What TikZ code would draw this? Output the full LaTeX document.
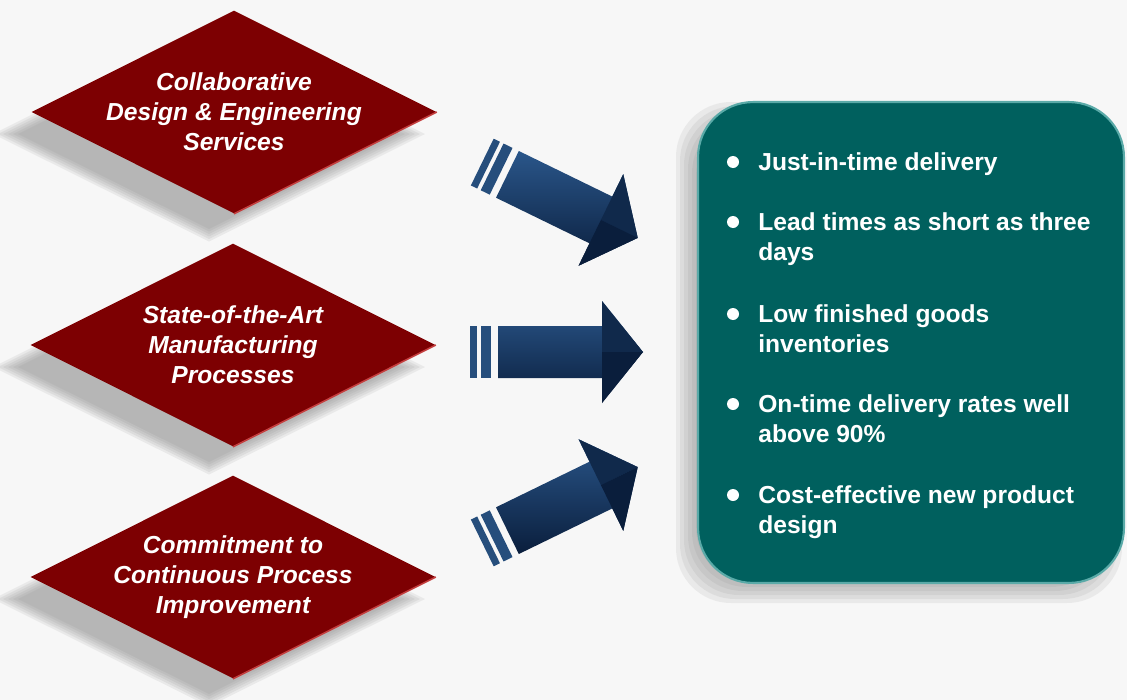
\documentclass[tikz,border=0pt]{standalone}
\usepackage{fontspec}
\setmainfont{Liberation Sans}
\definecolor{pagebg}{RGB}{247,247,247}
\definecolor{dmred}{RGB}{125,0,2}
\definecolor{dmredlight}{RGB}{196,62,62}
\definecolor{dmteal}{RGB}{0,96,94}
\definecolor{dmteallight}{RGB}{90,170,168}
\definecolor{dmnavy}{RGB}{42,86,138}
\definecolor{dmnavydark}{RGB}{10,30,60}
\usetikzlibrary{shapes.geometric,positioning}

\begin{document}
\begin{tikzpicture}[x=0.02cm,y=-0.02cm,
  capability/.style={shape=diamond,fill=dmred,minimum width=8.1cm,minimum height=4.06cm,inner sep=0pt},
  capabilitytext/.style={text=white,align=center,font=\fontsize{14}{17}\selectfont\bfseries\itshape},
  rimlight/.style={draw=dmredlight,line width=0.9pt},
  softshadow/.style={fill=black!55,fill opacity=0.1},
  outcomebox/.style={fill=dmteal,draw=dmteallight,line width=1.2pt,rounded corners=1.1cm,
    minimum width=8.52cm,minimum height=9.62cm},
  outcomedot/.style={circle,fill=white,inner sep=0pt,minimum size=0.24cm},
  outcometext/.style={text=white,align=left,inner sep=0pt,anchor=base west,
    font=\fontsize{14}{17}\selectfont\bfseries}
]
  \useasboundingbox[fill=pagebg] (0,0) rectangle (1127,700);

  % soft shadows, built up from a few growing copies
  \foreach \c in {112,345,577}
    \foreach \d in {-12,-7,-2,3,8,13}
      \fill[softshadow] (209,\c+22) ++(-203-\d,0) -- ++(203+\d,101+\d/2) -- ++(203+\d,-101-\d/2)
        -- ++(-203-\d,-101-\d/2) -- cycle;
  \foreach \d in {-10,-6,-2,2,6,10}
    \fill[softshadow,rounded corners=1.1cm] (686-\d,112-\d) rectangle (1112+\d,593+\d);

  % Capabilities on the left
  \node[capability] (design) at (234,112) {};
  \draw[rimlight] (design.east) -- (design.south);
  \node[capabilitytext] (designtxt) at (design.center) {Collaborative\\Design \& Engineering\\Services};

  \node[capability] (manufacturing) at (233,345) {};
  \draw[rimlight] (manufacturing.east) -- (manufacturing.south);
  \node[capabilitytext] (manufacturingtxt) at (manufacturing.center) {State-of-the-Art\\Manufacturing\\Processes};

  \node[capability] (improvement) at (233,577) {};
  \draw[rimlight] (improvement.east) -- (improvement.south);
  \node[capabilitytext] (improvementtxt) at (improvement.center) {Commitment to\\Continuous Process\\Improvement};

  % Striped block arrows
  \foreach \pos/\ang in {{560,200}/-26, {556.5,352}/0, {560,505}/26}{
    \begin{scope}[shift={(\pos)},rotate=\ang]
      \fill[dmnavy!90!black] (-86.5,-26) rectangle (-79.5,26);
      \fill[dmnavy!90!black] (-75.5,-26) rectangle (-65.5,26);
      \shade[top color=dmnavy,bottom color=dmnavydark]
        (-58.5,-26) -- (45.5,-26) -- (45.5,-51) -- (86.5,0) -- (45.5,51) -- (45.5,26) -- (-58.5,26) -- cycle;
      \fill[dmnavydark!80!dmnavy] (45.5,-51) -- (86.5,0) -- (45.5,0) -- cycle;
      \fill[dmnavydark] (45.5,51) -- (86.5,0) -- (45.5,0) -- cycle;
    \end{scope}
  }

  % Outcomes (base anchor sits on the last line)
  \node[outcomebox] (outcomes) at (911,342.5) {};

  \node[outcomedot] (dot1) at (733,162) {};
  \node[outcometext] (item1) at (758,170) {Just-in-time delivery};
  \node[outcomedot] (dot2) at (733,222) {};
  \node[outcometext] (item2) at (758,260) {Lead times as short as three\\days};
  \node[outcomedot] (dot3) at (733,314) {};
  \node[outcometext] (item3) at (758,352) {Low finished goods\\inventories};
  \node[outcomedot] (dot4) at (733,404) {};
  \node[outcometext] (item4) at (758,442) {On-time delivery rates well\\above 90\%};
  \node[outcomedot] (dot5) at (733,495) {};
  \node[outcometext] (item5) at (758,533) {Cost-effective new product\\design};
\end{tikzpicture}
\end{document}
